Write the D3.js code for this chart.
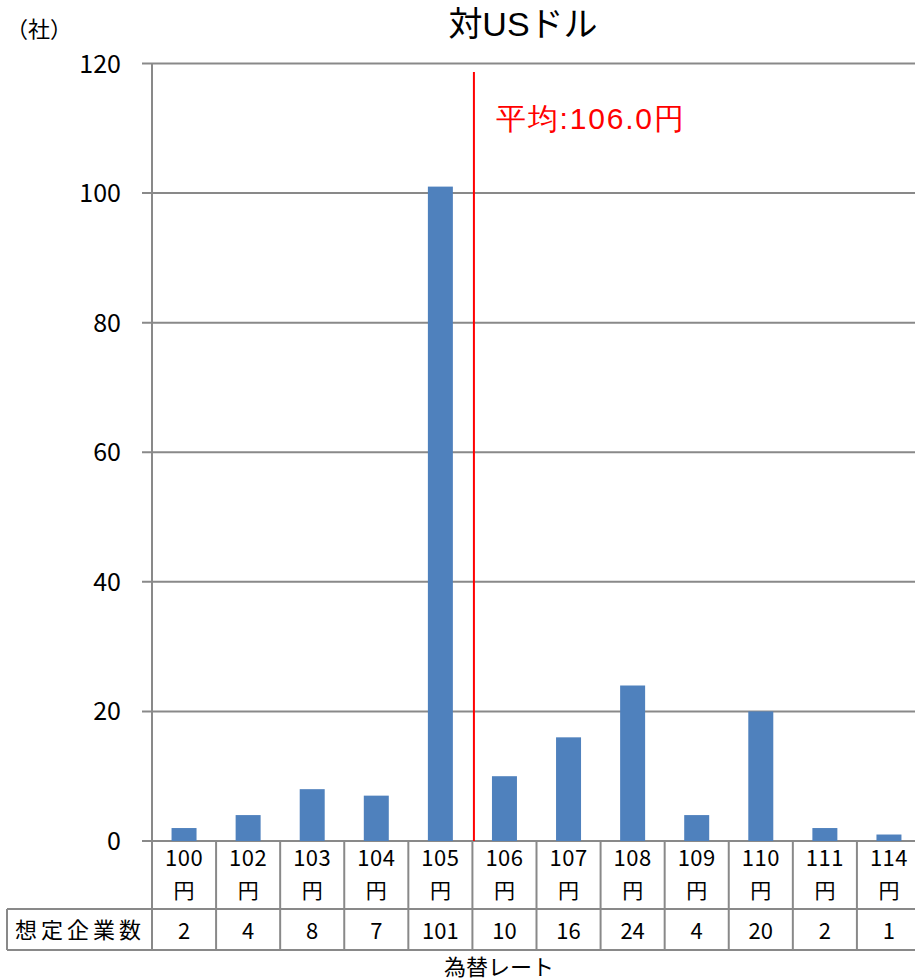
<!DOCTYPE html>
<html><head><meta charset="utf-8">
<script src="https://cdn.jsdelivr.net/npm/d3@7"></script>
<style>body{margin:0;background:#fff}svg{display:block}</style>
</head><body>
<script>
const categories = ["100","102","103","104","105","106","107","108","109","110","111","114"];
const counts = [2,4,8,7,101,10,16,24,4,20,2,1];
const yTicks = [0,20,40,60,80,100,120];
const meanCategory = "106";
const meanLabel = "平均:106.0円";
const title = "対USドル";
const unitLabel = "（社）";
const rowLabel = "想定企業数";
const xTitle = "為替レート";

const W = 915, H = 980;
const svg = d3.select("body").append("svg").attr("width", W).attr("height", H);
const jp = "'Noto Sans CJK JP', sans-serif";
const grid = "#898989";

const x = d3.scaleBand().domain(categories).range([152, 921]).paddingInner(0).paddingOuter(0);
const y = d3.scaleLinear().domain([0,120]).range([841, 63.5]);

// gridlines
svg.append("g").selectAll("line").data(yTicks).join("line")
  .attr("x1", 142).attr("x2", W).attr("y1", d=>y(d)).attr("y2", d=>y(d))
  .attr("stroke", grid).attr("stroke-width", 2);
// y axis line
svg.append("line").attr("x1",152).attr("x2",152).attr("y1",y(120)).attr("y2",y(0)).attr("stroke",grid).attr("stroke-width",2);
// y tick labels
svg.append("g").selectAll("text").data(yTicks).join("text")
  .attr("x", 121).attr("y", d=>y(d)).attr("dy","0.36em").attr("text-anchor","end")
  .attr("font-family", jp).attr("font-size", 25).attr("fill","#000").text(d=>d);

// bars
const bw = x.bandwidth()*0.39;
svg.append("g").selectAll("rect").data(categories).join("rect")
  .attr("x", d=>x(d)+x.bandwidth()/2-bw/2).attr("width", bw)
  .attr("y", (d,i)=>y(counts[i])).attr("height", (d,i)=>y(0)-y(counts[i]))
  .attr("fill", "#4F81BD");

// mean line
const mx = x(meanCategory)+1.5;
svg.append("line").attr("x1",mx).attr("x2",mx).attr("y1",72).attr("y2",y(0)).attr("stroke","#FF0000").attr("stroke-width",2);
svg.append("text").attr("x", 496).attr("y", 129).attr("fill","#FF0000")
  .attr("font-family","'Liberation Sans', Arial, sans-serif").attr("font-size",30).attr("letter-spacing",1.8).text(meanLabel);

// title
svg.append("text").attr("x",523).attr("y",36).attr("text-anchor","middle")
  .attr("font-family", "'Liberation Sans', " + jp).attr("font-size",34).attr("fill","#000").text(title);
svg.append("text").attr("x",6).attr("y",37)
  .attr("font-family", jp).attr("font-size",22).attr("fill","#000").text(unitLabel);

// table
const t0 = 841, t1 = 909, t2 = 950;
const tg = svg.append("g").attr("stroke", grid).attr("stroke-width", 2);
const bounds = categories.map(c=>x(c)).concat([x.range()[1]]);
tg.selectAll("line.v").data(bounds).join("line").attr("class","v")
  .attr("x1",d=>d).attr("x2",d=>d).attr("y1",t0).attr("y2",t2);
tg.append("line").attr("x1",7).attr("x2",7).attr("y1",t1).attr("y2",t2);
tg.append("line").attr("x1",7).attr("x2",W).attr("y1",t1).attr("y2",t1);
tg.append("line").attr("x1",7).attr("x2",W).attr("y1",t2).attr("y2",t2);

const lab = svg.append("g").attr("font-family", jp).attr("font-size",21).attr("fill","#000").attr("text-anchor","middle");
lab.selectAll("text.n").data(categories).join("text").attr("class","n")
  .attr("x", d=>x(d)+x.bandwidth()/2).attr("y", 866).attr("font-size",22).attr("letter-spacing",0.5).text(d=>d);
lab.selectAll("text.y").data(categories).join("text").attr("class","y")
  .attr("x", d=>x(d)+x.bandwidth()/2).attr("y", 898).text("円");
lab.selectAll("text.c").data(categories).join("text").attr("class","c")
  .attr("x", d=>x(d)+x.bandwidth()/2).attr("y", 939).attr("font-size",22).text((d,i)=>counts[i]);
lab.append("text").attr("x", 80).attr("y", 938).attr("font-size",22).attr("letter-spacing", 4).text(rowLabel);
lab.append("text").attr("x", 499).attr("y", 975).attr("font-size",22).text(xTitle);
</script>
</body></html>
